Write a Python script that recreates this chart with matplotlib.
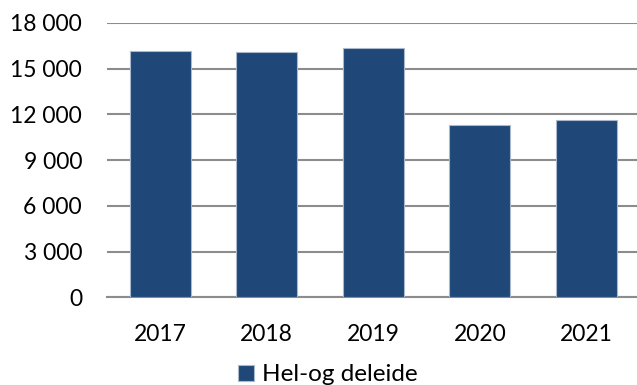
import matplotlib
matplotlib.use("Agg")
import matplotlib.pyplot as plt
from matplotlib.ticker import FuncFormatter

years = ["2017", "2018", "2019", "2020", "2021"]
values = [16150, 16130, 16370, 11340, 11620]
series_name = "Hel-og deleide"
yticks = [0, 3000, 6000, 9000, 12000, 15000, 18000]

plt.rcParams["font.family"] = ["Lato", "DejaVu Sans"]

fig = plt.figure(figsize=(6.37, 3.85), dpi=100)
ax = fig.add_axes([0.168, 0.2273, 0.836, 0.713])

bars = ax.bar(years, values, width=0.57, color="#1F4878",
              edgecolor="#A9B8CC", linewidth=0.8, zorder=3, label=series_name)

ax.set_ylim(0, 18000)
ax.set_xlim(-0.5, 4.5)
ax.set_yticks(yticks)
ax.yaxis.set_major_formatter(FuncFormatter(lambda v, p: f"{int(v):,}".replace(",", " ")))
ax.grid(axis="y", color="#8C8C8C", linewidth=1.5, zorder=0)
ax.tick_params(axis="both", length=0, labelsize=16.5, colors="black")
ax.tick_params(axis="y", pad=18)
ax.tick_params(axis="x", pad=19)

for s in ["top", "right", "left"]:
    ax.spines[s].set_visible(False)
ax.spines["bottom"].set_color("#8C8C8C")
ax.spines["bottom"].set_linewidth(1.5)

fig.legend(handles=[bars], labels=[series_name], loc="center",
           bbox_to_anchor=(0.515, 0.026), frameon=False, fontsize=17.5,
           handlelength=0.65, handleheight=0.65, handletextpad=0.35,
           borderpad=0)

fig.savefig("out.png", dpi=100)
